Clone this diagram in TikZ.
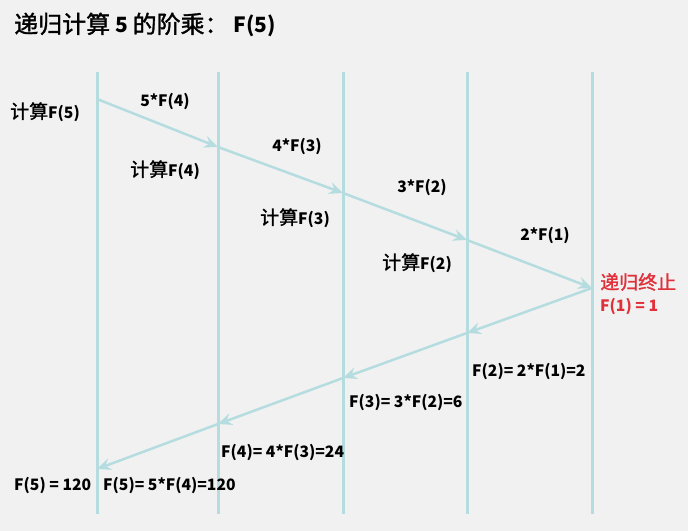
\documentclass[tikz,border=0pt]{standalone}
\usepackage{fontspec}
\setmainfont{Noto Sans CJK SC}
\newfontface\zhfont[RawFeature={embolden=1.3}]{Noto Sans CJK SC}
\usetikzlibrary{arrows.meta}
\definecolor{bg}{HTML}{F1F1F1}
\definecolor{lane}{HTML}{B5DDE0}
\definecolor{stopred}{HTML}{E0303A}
\newcommand\zh[1]{{\fontsize{19}{20}\zhfont#1}}
\newcommand\zhbig[1]{{\fontsize{24}{26}\zhfont#1}}
\tikzset{
  x=1pt,y=-1pt,
  lanestyle/.style={draw=lane,line width=3pt},
  flow/.style={draw=lane,line width=2.5pt,-{Stealth[length=14pt,width=12pt,inset=5pt]}},
  lbl/.style={font=\fontsize{15.7}{18}\bfseries,inner sep=0pt,text=black},
  redlbl/.style={lbl,text=stopred},
}
\begin{document}
\begin{tikzpicture}
\fill[bg] (0,0) rectangle (688,531);
\useasboundingbox (0,0) rectangle (688,531);
% lanes
\foreach \i/\x in {1/97,2/218,3/343,4/467,5/592}{
  \coordinate (t\i) at (\x,72);
  \coordinate (b\i) at (\x,514);
  \draw[lanestyle] (t\i) -- (b\i);
}
% call points
\coordinate (c1) at (97,99);
\coordinate (c2) at (218,147);
\coordinate (c3) at (343,193);
\coordinate (c4) at (467,240);
\coordinate (c5) at (592,288);
\coordinate (r4) at (467,333);
\coordinate (r3) at (343,378);
\coordinate (r2) at (218,424);
\coordinate (r1) at (97,469);
\draw[flow] (c1) -- (c2);
\draw[flow] (c2) -- (c3);
\draw[flow] (c3) -- (c4);
\draw[flow] (c4) -- (c5);
\draw[flow] (c5) -- (r4);
\draw[flow] (r4) -- (r3);
\draw[flow] (r3) -- (r2);
\draw[flow] (r2) -- (r1);
% title
\node[lbl,anchor=west,font=\fontsize{21}{26}\bfseries] (title) at (14,25) {\zhbig{递归计算} 5 \zhbig{的阶乘：} F(5)};
% labels
\node[lbl,anchor=west] (k5) at (10,112) {\zh{计算}F(5)};
\node[lbl] (m4) at (165,102) {5*F(4)};
\node[lbl,anchor=west] (k4) at (130,170) {\zh{计算}F(4)};
\node[lbl] (m3) at (297,147) {4*F(3)};
\node[lbl,anchor=west] (k3) at (260,218) {\zh{计算}F(3)};
\node[lbl] (m2) at (422,188) {3*F(2)};
\node[lbl,anchor=west] (k2) at (382,263) {\zh{计算}F(2)};
\node[lbl] (m1) at (545,236) {2*F(1)};
\node[redlbl,anchor=west] (stop) at (600,282) {\zh{递归终止}};
\node[redlbl,anchor=west] (f1) at (600,306) {F(1) = 1};
\node[lbl,anchor=west] (v2) at (472,371) {F(2)= 2*F(1)=2};
\node[lbl,anchor=west] (v3) at (349,402) {F(3)= 3*F(2)=6};
\node[lbl,anchor=west] (v4) at (221,452) {F(4)= 4*F(3)=24};
\node[lbl,anchor=west] (v5a) at (14,485) {F(5) = 120};
\node[lbl,anchor=west] (v5b) at (103,485) {F(5)= 5*F(4)=120};
\end{tikzpicture}
\end{document}
